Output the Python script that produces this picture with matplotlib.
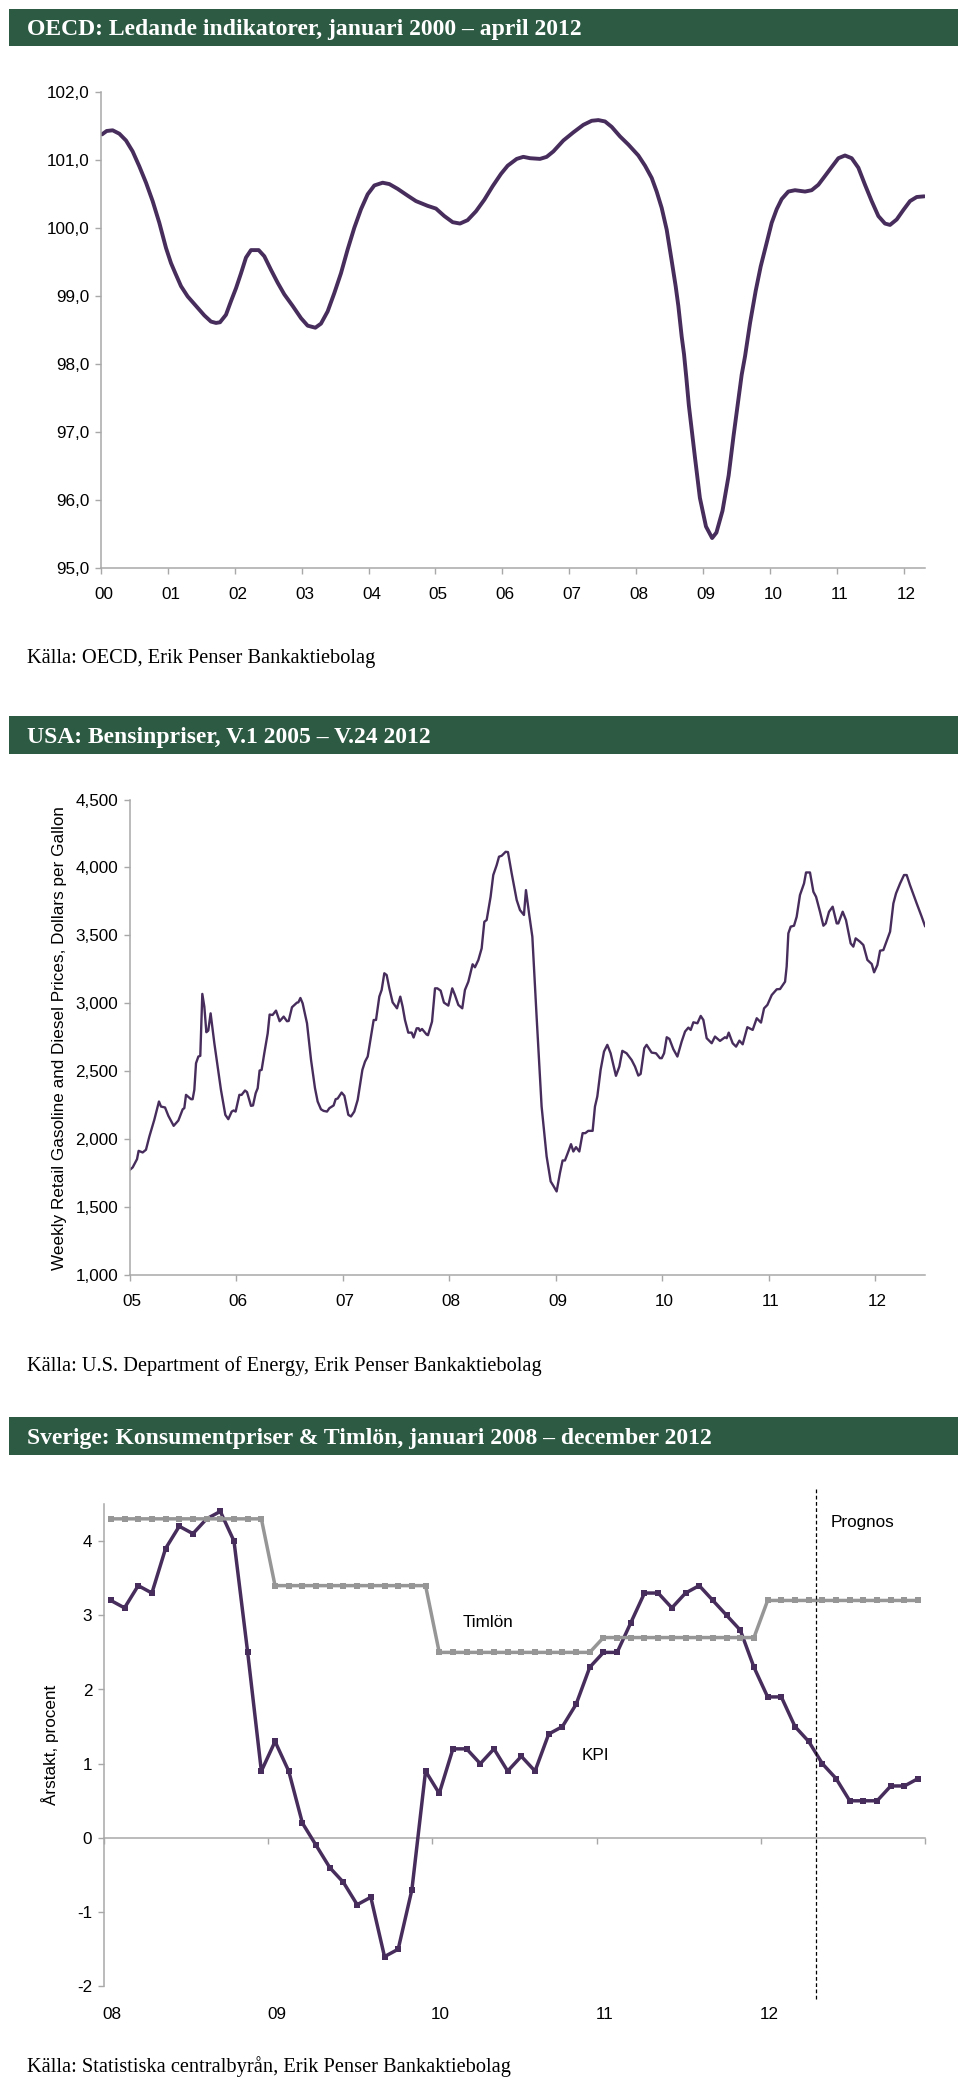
import numpy as np
import matplotlib
matplotlib.use("Agg")
import matplotlib.pyplot as plt
from matplotlib.patches import Rectangle
from matplotlib.transforms import ScaledTranslation

# ---------- data ----------
oecd_t = [.015,.085,.174,.274,.374,.473,.573,.673,.772,.872,.972,1.046,1.111,1.196,1.295,1.42,1.545,1.644,1.719,1.779,1.868,1.943,2.018,2.093,2.167,2.242,2.357,2.441,2.541,2.641,2.74,2.865,2.99,3.089,3.204,3.288,3.388,3.488,3.587,3.687,3.787,3.886,3.986,4.086,4.21,4.31,4.434,4.584,4.708,4.883,5.007,5.132,5.257,5.366,5.48,5.605,5.73,5.855,5.979,6.079,6.214,6.313,6.413,6.562,6.662,6.762,6.911,7.061,7.21,7.335,7.434,7.534,7.634,7.758,7.883,8.032,8.132,8.232,8.306,8.381,8.456,8.531,8.59,8.63,8.68,8.715,8.75,8.787,8.879,8.952,9.043,9.135,9.199,9.29,9.382,9.455,9.577,9.627,9.702,9.786,9.861,9.951,10.025,10.1,10.175,10.274,10.374,10.524,10.623,10.723,10.823,10.922,11.022,11.121,11.221,11.321,11.42,11.52,11.62,11.719,11.794,11.894,11.994,12.093,12.193,12.307]
oecd_v = [101.37,101.42,101.43,101.38,101.28,101.12,100.90,100.66,100.39,100.07,99.70,99.48,99.33,99.14,98.99,98.85,98.71,98.62,98.60,98.61,98.72,98.92,99.11,99.33,99.56,99.67,99.67,99.58,99.38,99.19,99.02,98.85,98.67,98.56,98.53,98.59,98.77,99.04,99.33,99.68,100.00,100.27,100.49,100.62,100.66,100.64,100.57,100.47,100.39,100.32,100.28,100.17,100.08,100.06,100.11,100.24,100.41,100.61,100.79,100.91,101.01,101.04,101.02,101.01,101.04,101.12,101.28,101.40,101.51,101.57,101.58,101.56,101.48,101.34,101.22,101.06,100.91,100.73,100.53,100.29,99.97,99.51,99.14,98.85,98.40,98.14,97.79,97.39,96.62,96.03,95.61,95.44,95.52,95.84,96.36,96.94,97.84,98.11,98.60,99.07,99.43,99.78,100.07,100.27,100.42,100.53,100.55,100.53,100.55,100.63,100.76,100.89,101.02,101.06,101.02,100.88,100.63,100.39,100.17,100.06,100.04,100.12,100.26,100.39,100.45,100.46]
oecd_years = ['00','01','02','03','04','05','06','07','08','09','10','11','12']

gas_t = [0,.025,.066,.081,.119,.15,.182,.228,.272,.291,.329,.36,.41,.454,.495,.51,.526,.573,.588,.604,.62,.642,.66,.679,.698,.717,.735,.757,.792,.823,.854,.895,.923,.955,.973,.992,1.027,1.048,1.08,1.099,1.136,1.155,1.18,1.199,1.217,1.236,1.261,1.293,1.311,1.339,1.371,1.405,1.443,1.474,1.49,1.521,1.568,1.581,1.6,1.621,1.662,1.7,1.737,1.762,1.793,1.818,1.85,1.872,1.912,1.931,1.95,1.987,2.013,2.05,2.075,2.106,2.138,2.163,2.182,2.207,2.232,2.263,2.288,2.31,2.341,2.363,2.388,2.41,2.435,2.466,2.507,2.538,2.56,2.582,2.613,2.645,2.663,2.692,2.71,2.723,2.742,2.785,2.798,2.836,2.864,2.886,2.917,2.948,2.989,3.026,3.051,3.083,3.12,3.145,3.177,3.217,3.239,3.271,3.302,3.327,3.349,3.386,3.411,3.443,3.465,3.49,3.527,3.549,3.584,3.631,3.662,3.699,3.718,3.749,3.778,3.818,3.865,3.912,3.95,3.975,4.006,4.037,4.062,4.084,4.116,4.141,4.163,4.188,4.219,4.25,4.275,4.303,4.344,4.366,4.388,4.419,4.451,4.482,4.513,4.563,4.595,4.623,4.663,4.71,4.742,4.773,4.795,4.829,4.851,4.898,4.939,4.976,4.993,5.015,5.04,5.065,5.102,5.14,5.18,5.212,5.243,5.265,5.29,5.328,5.359,5.384,5.415,5.462,5.493,5.54,5.587,5.603,5.622,5.659,5.691,5.722,5.753,5.797,5.847,5.885,5.925,5.954,5.985,6.026,6.073,6.104,6.151,6.166,6.182,6.204,6.235,6.26,6.291,6.329,6.348,6.385,6.417,6.442,6.479,6.511,6.533,6.564,6.598,6.636,6.651,6.692,6.723,6.767,6.792,6.814,6.855,6.886,6.924,6.965,6.987,7.018,7.043,7.074,7.137,7.168,7.193,7.231,7.268,7.293,7.324,7.387,7.434,7.465]
gas_v = [1775,1792,1853,1914,1902,1922,2020,2142,2277,2240,2233,2172,2098,2137,2220,2228,2326,2294,2294,2363,2559,2608,2613,3069,2975,2787,2799,2926,2706,2534,2363,2179,2147,2203,2211,2203,2326,2326,2358,2346,2245,2248,2338,2375,2505,2510,2632,2779,2917,2914,2946,2868,2902,2868,2870,2971,3005,3007,3039,3000,2853,2583,2375,2277,2220,2208,2203,2228,2248,2294,2299,2343,2319,2179,2167,2203,2289,2412,2510,2571,2608,2755,2877,2877,3049,3098,3221,3208,3110,3007,2963,3049,2975,2877,2784,2784,2748,2816,2816,2797,2811,2770,2765,2865,3110,3110,3093,3005,2983,3110,3061,2988,2963,3098,3159,3287,3265,3319,3404,3600,3613,3784,3944,4017,4079,4086,4115,4113,3956,3760,3686,3650,3833,3650,3490,2902,2240,1873,1689,1657,1615,1750,1843,1843,1909,1963,1909,1941,1909,2044,2044,2061,2061,2240,2314,2510,2645,2694,2632,2466,2534,2650,2632,2583,2534,2468,2480,2669,2694,2637,2632,2596,2596,2632,2750,2738,2662,2608,2718,2792,2821,2804,2860,2853,2907,2877,2743,2706,2755,2723,2750,2743,2784,2706,2681,2725,2698,2824,2804,2890,2858,2963,2988,3061,3103,3105,3159,3270,3515,3564,3571,3637,3797,3882,3963,3963,3821,3784,3674,3571,3588,3674,3711,3588,3588,3674,3613,3441,3417,3478,3453,3429,3319,3289,3228,3282,3387,3392,3527,3735,3809,3882,3944,3944,3870,3735,3637,3569]
gas_years = ['05','06','07','08','09','10','11','12']

kpi = [3.2,3.1,3.4,3.3,3.9,4.2,4.1,4.3,4.4,4.0,2.5,0.9,
       1.3,0.9,0.2,-0.1,-0.4,-0.6,-0.9,-0.8,-1.6,-1.5,-0.7,0.9,
       0.6,1.2,1.2,1.0,1.2,0.9,1.1,0.9,1.4,1.5,1.8,2.3,
       2.5,2.5,2.9,3.3,3.3,3.1,3.3,3.4,3.2,3.0,2.8,2.3,
       1.9,1.9,1.5,1.3,1.0,0.8,0.5,0.5,0.5,0.7,0.7,0.8]
timlon = [4.3]*12 + [3.4]*12 + [2.5]*12 + [2.7]*12 + [3.2]*12
se_years = ['08','09','10','11','12']

titles = ['OECD: Ledande indikatorer, januari 2000 – april 2012',
          'USA: Bensinpriser, V.1 2005 – V.24 2012',
          'Sverige: Konsumentpriser & Timlön, januari 2008 – december 2012']
sources = ['Källa: OECD, Erik Penser Bankaktiebolag',
           'Källa: U.S. Department of Energy, Erik Penser Bankaktiebolag',
           'Källa: Statistiska centralbyrån, Erik Penser Bankaktiebolag']

# ---------- style ----------
W, H = 960, 2081
PURPLE = '#472D5C'
GREY = '#969696'
AXIS = '#A8A8A8'
GREEN = '#2C5A43'
SANS = 'Liberation Sans'
SERIF = 'Liberation Serif'
plt.rcParams['font.family'] = SANS

fig = plt.figure(figsize=(W/100, H/100), dpi=100, facecolor='white')

def fx(x): return x / W
def fy(y): return 1 - y / H

def make_axes(l, r, t, b):
    ax = fig.add_axes([fx(l), fy(b), (r-l)/W, (b-t)/H])
    for s in ('top', 'right'):
        ax.spines[s].set_visible(False)
    for s in ('left', 'bottom'):
        ax.spines[s].set_color(AXIS)
        ax.spines[s].set_linewidth(1.1)
    ax.tick_params(colors='black', labelsize=12.3, color=AXIS, width=1.0, length=4, pad=4.5, direction='out')
    return ax

def nudge_x_labels(ax, pts):
    off = ScaledTranslation(pts / 72, 0, fig.dpi_scale_trans)
    for lab in ax.get_xticklabels():
        lab.set_transform(lab.get_transform() + off)

# headers / sources
for (top, bot), title, (sy, src) in zip([(9, 46), (716, 754), (1417, 1455)], titles,
                                         [(659, sources[0]), (1366, sources[1]), (2067, sources[2])]):
    fig.add_artist(Rectangle((fx(9), fy(bot)), (958-9)/W, (bot-top)/H, transform=fig.transFigure,
                             facecolor=GREEN, edgecolor='none'))
    fig.text(fx(27), fy((top+bot)/2 + 2.5), title, color='white', family=SERIF, weight='bold',
             fontsize=17, va='center', ha='left')
    fig.text(fx(27), fy(sy), src, color='black', family=SERIF, fontsize=14.7, va='center', ha='left')

# ---------- chart 1 ----------
ax1 = make_axes(101, 925, 91.5, 568)
ax1.plot(oecd_t, oecd_v, color=PURPLE, lw=2.8, solid_capstyle='round')
ax1.set_xlim(0, 12.317)
ax1.set_ylim(95, 102)
ax1.set_yticks(np.arange(95, 103))
ax1.set_yticklabels([f'{v},0' for v in range(95, 103)])
ax1.set_xticks(np.arange(len(oecd_years)))
ax1.set_xticklabels(oecd_years)
ax1.tick_params(axis='x', pad=10)
nudge_x_labels(ax1, 2)

# ---------- chart 2 ----------
ax2 = make_axes(130, 925, 799.5, 1275)
ax2.plot(gas_t, gas_v, color=PURPLE, lw=1.7, solid_joinstyle='round')
ax2.set_xlim(0, 7.465)
ax2.set_ylim(1000, 4500)
ax2.set_yticks(np.arange(1000, 4501, 500))
ax2.set_yticklabels([f'{v:,}' for v in range(1000, 4501, 500)])
ax2.set_xticks(np.arange(len(gas_years)))
ax2.set_xticklabels(gas_years)
ax2.tick_params(axis='x', pad=10)
nudge_x_labels(ax2, 1)
fig.text(fx(60), fy(1038), 'Weekly Retail Gasoline and Diesel Prices, Dollars per Gallon',
         rotation=90, ha='center', va='center', fontsize=12.3)

# ---------- chart 3 ----------
ax3 = make_axes(104, 925, 1504, 1986.3)
months = np.arange(len(kpi)) + 0.5
ax3.plot(months, kpi, color=PURPLE, lw=2.5, marker='s', ms=4.6, mew=0, clip_on=False)
ax3.plot(months, timlon, color=GREY, lw=2.5, marker='s', ms=4.6, mew=0, clip_on=False)
ax3.set_xlim(0, 60)
ax3.set_ylim(-2, 4.5)
ax3.set_yticks(np.arange(-2, 5))
ax3.set_yticklabels(['-2', '-1', '0', '1', '2', '3', '4'])
ax3.spines['bottom'].set_visible(False)
ax3.set_xticks(np.arange(len(se_years)) * 12 + 0.5)
ax3.set_xticklabels(se_years)
ax3.tick_params(axis='x', length=0, pad=15)
nudge_x_labels(ax3, 1)
zero = ax3.secondary_xaxis(2 / 6.5)
zero.set_xticks(np.arange(0, 61, 12))
zero.set_xticklabels([])
zero.spines['bottom'].set_color(AXIS)
zero.spines['bottom'].set_linewidth(1.1)
zero.tick_params(color=AXIS, width=1.0, length=4, direction='out')
ax3.plot([52, 52], [-2.17, 4.71], color='black', lw=0.9, ls=(0, (3, 2)), clip_on=False, zorder=5)
ax3.text(28.07, 2.9, 'Timlön', ha='center', va='center', fontsize=12.3)
ax3.text(35.9, 1.11, 'KPI', ha='center', va='center', fontsize=12.3)
ax3.text(55.4, 4.25, 'Prognos', ha='center', va='center', fontsize=12.3)
fig.text(fx(50.5), fy(1745), 'Årstakt, procent', rotation=90, ha='center', va='center', fontsize=12.3)

fig.savefig('out.png', dpi=100, facecolor='white')
